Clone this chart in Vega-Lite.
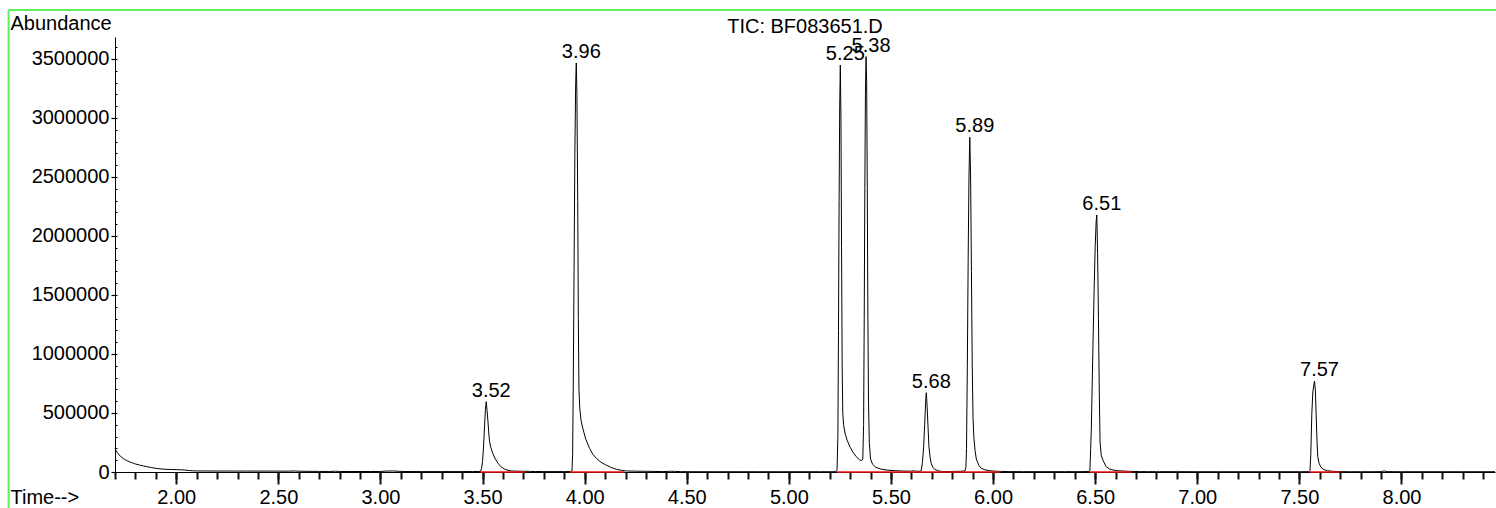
{
  "$schema": "https://vega.github.io/schema/vega-lite/v6.json",
  "width": 1380,
  "height": 435,
  "autosize": "none",
  "padding": {"left": 115, "top": 37, "right": 1, "bottom": 36},
  "background": "white",
  "config": {
    "view": {"stroke": null},
    "font": "Liberation Sans",
    "axis": {
      "grid": false,
      "labelFont": "Liberation Sans",
      "labelFontSize": 20,
      "labelColor": "black",
      "titleFont": "Liberation Sans",
      "titleFontSize": 20,
      "titleFontWeight": "normal",
      "titleColor": "black",
      "domainColor": "black",
      "domainWidth": 1,
      "labelFlush": false,
      "labelBound": false
    }
  },
  "title": {
    "text": "TIC: BF083651.D",
    "font": "Liberation Sans",
    "fontSize": 20,
    "fontWeight": "normal",
    "color": "black",
    "anchor": "middle",
    "frame": "group",
    "baseline": "alphabetic",
    "offset": 0,
    "dy": 44
  },
  "resolve": {"axis": {"x": "independent", "y": "independent"}},
  "datasets": {
    "trace": [
      {"t": 1.700, "a": 200000}, {"t": 1.705, "a": 182000}, {"t": 1.710, "a": 168000}, {"t": 1.720, "a": 146000},
      {"t": 1.730, "a": 128000}, {"t": 1.740, "a": 115000}, {"t": 1.750, "a": 104000}, {"t": 1.760, "a": 95000},
      {"t": 1.770, "a": 87000}, {"t": 1.780, "a": 80000}, {"t": 1.790, "a": 74000}, {"t": 1.800, "a": 68000},
      {"t": 1.820, "a": 59000}, {"t": 1.840, "a": 51000}, {"t": 1.860, "a": 44000}, {"t": 1.880, "a": 37000},
      {"t": 1.900, "a": 31000}, {"t": 1.920, "a": 27000}, {"t": 1.940, "a": 24000}, {"t": 1.960, "a": 22000},
      {"t": 1.980, "a": 21000}, {"t": 2.000, "a": 20000}, {"t": 2.020, "a": 19000}, {"t": 2.040, "a": 17000},
      {"t": 2.060, "a": 13000}, {"t": 2.080, "a": 10000}, {"t": 2.100, "a": 9000}, {"t": 2.150, "a": 8500},
      {"t": 2.200, "a": 8000}, {"t": 2.250, "a": 8200}, {"t": 2.300, "a": 7800}, {"t": 2.350, "a": 8000},
      {"t": 2.400, "a": 7600}, {"t": 2.450, "a": 7800}, {"t": 2.500, "a": 7400}, {"t": 2.550, "a": 7000},
      {"t": 2.580, "a": 9000}, {"t": 2.600, "a": 6500}, {"t": 2.650, "a": 5500}, {"t": 2.700, "a": 5000},
      {"t": 2.750, "a": 4500}, {"t": 2.780, "a": 6500}, {"t": 2.800, "a": 4500}, {"t": 2.850, "a": 4000},
      {"t": 2.900, "a": 4500}, {"t": 2.950, "a": 4000}, {"t": 3.000, "a": 4500}, {"t": 3.030, "a": 8000},
      {"t": 3.060, "a": 9000}, {"t": 3.090, "a": 6000}, {"t": 3.120, "a": 4000}, {"t": 3.200, "a": 3500},
      {"t": 3.300, "a": 3500}, {"t": 3.400, "a": 3500}, {"t": 3.450, "a": 4000}, {"t": 3.490, "a": 5000},
      {"t": 3.495, "a": 30000}, {"t": 3.500, "a": 90000}, {"t": 3.505, "a": 220000}, {"t": 3.510, "a": 400000},
      {"t": 3.514, "a": 530000}, {"t": 3.518, "a": 596000}, {"t": 3.522, "a": 520000}, {"t": 3.526, "a": 440000},
      {"t": 3.530, "a": 340000}, {"t": 3.534, "a": 260000}, {"t": 3.540, "a": 210000}, {"t": 3.550, "a": 158000},
      {"t": 3.560, "a": 118000}, {"t": 3.575, "a": 75000}, {"t": 3.590, "a": 45000}, {"t": 3.608, "a": 24000},
      {"t": 3.625, "a": 14000}, {"t": 3.640, "a": 9000}, {"t": 3.670, "a": 7000}, {"t": 3.700, "a": 6000},
      {"t": 3.730, "a": 5000}, {"t": 3.760, "a": 4000}, {"t": 3.800, "a": 3500}, {"t": 3.850, "a": 3500},
      {"t": 3.900, "a": 3500}, {"t": 3.930, "a": 4000},
      {"t": 3.938, "a": 10000}, {"t": 3.941, "a": 150000}, {"t": 3.944, "a": 700000}, {"t": 3.948, "a": 1700000},
      {"t": 3.952, "a": 2700000}, {"t": 3.956, "a": 3300000}, {"t": 3.959, "a": 3466000}, {"t": 3.962, "a": 3200000},
      {"t": 3.966, "a": 2300000}, {"t": 3.969, "a": 1300000}, {"t": 3.972, "a": 700000}, {"t": 3.976, "a": 540000},
      {"t": 3.982, "a": 440000}, {"t": 3.991, "a": 370000}, {"t": 4.005, "a": 280000}, {"t": 4.024, "a": 200000},
      {"t": 4.040, "a": 150000}, {"t": 4.057, "a": 116000}, {"t": 4.080, "a": 82000}, {"t": 4.106, "a": 58000},
      {"t": 4.130, "a": 38000}, {"t": 4.155, "a": 23000}, {"t": 4.180, "a": 14000}, {"t": 4.205, "a": 9000},
      {"t": 4.250, "a": 7000}, {"t": 4.300, "a": 6000}, {"t": 4.340, "a": 5000}, {"t": 4.380, "a": 3500},
      {"t": 4.420, "a": 6000}, {"t": 4.440, "a": 5500}, {"t": 4.470, "a": 3000}, {"t": 4.550, "a": 2500},
      {"t": 4.650, "a": 2500}, {"t": 4.750, "a": 2500}, {"t": 4.850, "a": 2500}, {"t": 4.950, "a": 2500},
      {"t": 5.050, "a": 2500}, {"t": 5.150, "a": 2500}, {"t": 5.200, "a": 2500}, {"t": 5.232, "a": 3000},
      {"t": 5.236, "a": 20000}, {"t": 5.240, "a": 300000}, {"t": 5.243, "a": 1200000}, {"t": 5.246, "a": 2300000},
      {"t": 5.249, "a": 3100000}, {"t": 5.252, "a": 3449000}, {"t": 5.255, "a": 3000000}, {"t": 5.258, "a": 1900000},
      {"t": 5.261, "a": 900000}, {"t": 5.264, "a": 500000}, {"t": 5.268, "a": 400000}, {"t": 5.275, "a": 330000},
      {"t": 5.285, "a": 270000}, {"t": 5.300, "a": 210000}, {"t": 5.315, "a": 165000}, {"t": 5.330, "a": 130000},
      {"t": 5.345, "a": 105000}, {"t": 5.355, "a": 95000}, {"t": 5.362, "a": 110000},
      {"t": 5.366, "a": 400000}, {"t": 5.369, "a": 1300000}, {"t": 5.372, "a": 2400000}, {"t": 5.375, "a": 3200000},
      {"t": 5.378, "a": 3520000}, {"t": 5.381, "a": 3300000}, {"t": 5.384, "a": 2400000}, {"t": 5.387, "a": 1300000},
      {"t": 5.390, "a": 600000}, {"t": 5.394, "a": 250000}, {"t": 5.400, "a": 110000}, {"t": 5.410, "a": 65000},
      {"t": 5.425, "a": 40000}, {"t": 5.450, "a": 25000}, {"t": 5.480, "a": 16000}, {"t": 5.520, "a": 11000},
      {"t": 5.560, "a": 8000}, {"t": 5.600, "a": 7000}, {"t": 5.610, "a": 11000}, {"t": 5.620, "a": 7000},
      {"t": 5.640, "a": 6500}, {"t": 5.648, "a": 11000},
      {"t": 5.654, "a": 80000}, {"t": 5.660, "a": 214000}, {"t": 5.665, "a": 400000}, {"t": 5.670, "a": 600000},
      {"t": 5.673, "a": 672000}, {"t": 5.677, "a": 560000}, {"t": 5.681, "a": 400000}, {"t": 5.686, "a": 214000},
      {"t": 5.692, "a": 120000}, {"t": 5.697, "a": 74000}, {"t": 5.705, "a": 40000}, {"t": 5.714, "a": 23000},
      {"t": 5.730, "a": 10000}, {"t": 5.754, "a": 4000}, {"t": 5.780, "a": 4000}, {"t": 5.810, "a": 5000},
      {"t": 5.840, "a": 6000}, {"t": 5.862, "a": 9000},
      {"t": 5.867, "a": 40000}, {"t": 5.870, "a": 200000}, {"t": 5.874, "a": 900000}, {"t": 5.878, "a": 1800000},
      {"t": 5.882, "a": 2500000}, {"t": 5.886, "a": 2836000}, {"t": 5.890, "a": 2500000}, {"t": 5.894, "a": 1700000},
      {"t": 5.898, "a": 900000}, {"t": 5.902, "a": 450000}, {"t": 5.906, "a": 290000}, {"t": 5.912, "a": 180000},
      {"t": 5.918, "a": 110000}, {"t": 5.930, "a": 58000}, {"t": 5.942, "a": 32000}, {"t": 5.960, "a": 18000},
      {"t": 5.983, "a": 11000}, {"t": 6.010, "a": 7000}, {"t": 6.040, "a": 5000}, {"t": 6.080, "a": 3500},
      {"t": 6.150, "a": 3000}, {"t": 6.250, "a": 3000}, {"t": 6.350, "a": 3000}, {"t": 6.420, "a": 3000},
      {"t": 6.470, "a": 4000},
      {"t": 6.474, "a": 10000}, {"t": 6.478, "a": 200000}, {"t": 6.481, "a": 356000}, {"t": 6.485, "a": 700000},
      {"t": 6.489, "a": 1060000}, {"t": 6.495, "a": 1550000}, {"t": 6.500, "a": 1910000}, {"t": 6.505, "a": 2130000},
      {"t": 6.508, "a": 2178000}, {"t": 6.512, "a": 1850000}, {"t": 6.516, "a": 1300000}, {"t": 6.520, "a": 700000},
      {"t": 6.524, "a": 250000}, {"t": 6.530, "a": 140000}, {"t": 6.538, "a": 100000}, {"t": 6.554, "a": 45000},
      {"t": 6.570, "a": 26000}, {"t": 6.587, "a": 17000}, {"t": 6.610, "a": 11000}, {"t": 6.636, "a": 8000},
      {"t": 6.680, "a": 5000}, {"t": 6.717, "a": 3500}, {"t": 6.760, "a": 3000}, {"t": 6.800, "a": 3000},
      {"t": 6.806, "a": 6000}, {"t": 6.815, "a": 3000}, {"t": 6.890, "a": 3000}, {"t": 6.897, "a": 6000},
      {"t": 6.905, "a": 3000}, {"t": 7.000, "a": 2500}, {"t": 7.100, "a": 2500}, {"t": 7.200, "a": 2500},
      {"t": 7.300, "a": 2500}, {"t": 7.400, "a": 2500}, {"t": 7.500, "a": 2500}, {"t": 7.548, "a": 3000},
      {"t": 7.552, "a": 10000}, {"t": 7.556, "a": 150000}, {"t": 7.561, "a": 497000}, {"t": 7.566, "a": 680000},
      {"t": 7.574, "a": 771000}, {"t": 7.578, "a": 700000}, {"t": 7.582, "a": 497000}, {"t": 7.586, "a": 280000},
      {"t": 7.590, "a": 130000}, {"t": 7.596, "a": 75000}, {"t": 7.606, "a": 40000}, {"t": 7.620, "a": 20000},
      {"t": 7.638, "a": 11000}, {"t": 7.660, "a": 6000}, {"t": 7.695, "a": 3000}, {"t": 7.750, "a": 2500},
      {"t": 7.800, "a": 2500}, {"t": 7.850, "a": 2500}, {"t": 7.900, "a": 3000}, {"t": 7.915, "a": 9000},
      {"t": 7.930, "a": 3000}, {"t": 8.000, "a": 2500}, {"t": 8.100, "a": 2500}, {"t": 8.200, "a": 2500},
      {"t": 8.300, "a": 2500}, {"t": 8.400, "a": 2500}, {"t": 8.458, "a": 2500}
    ],
    "peaks": [
      {"rt": 3.518, "h": 596000, "label": "3.52"},
      {"rt": 3.959, "h": 3466000, "label": "3.96"},
      {"rt": 5.252, "h": 3449000, "label": "5.25"},
      {"rt": 5.378, "h": 3520000, "label": "5.38"},
      {"rt": 5.673, "h": 672000, "label": "5.68"},
      {"rt": 5.886, "h": 2836000, "label": "5.89"},
      {"rt": 6.508, "h": 2178000, "label": "6.51"},
      {"rt": 7.574, "h": 771000, "label": "7.57"}
    ],
    "baselines": [
      {"start": 3.490, "end": 3.706},
      {"start": 3.926, "end": 4.195},
      {"start": 5.236, "end": 6.035},
      {"start": 6.474, "end": 6.677},
      {"start": 7.550, "end": 7.695}
    ]
  },
  "layer": [
    {
      "data": {"name": "trace"},
      "mark": {"type": "line", "color": "black", "strokeWidth": 1},
      "encoding": {
        "x": {
          "field": "t", "type": "quantitative",
          "scale": {"domain": [1.7, 8.458], "nice": false, "zero": false},
          "axis": {
            "orient": "bottom",
            "title": "Time-->",
            "titleX": -105, "titleY": 31, "titleAlign": "left", "titleBaseline": "alphabetic", "titleAngle": 0,
            "values": [2.0,2.5,3.0,3.5,4.0,4.5,5.0,5.5,6.0,6.5,7.0,7.5,8.0],
            "format": ".2f",
            "ticks": true,
            "tickColor": "#111111",
            "tickOpacity": 1,
            "tickWidth": 2,
            "tickSize": 12,
            "labelBaseline": "alphabetic",
            "labelPadding": 19
          }
        },
        "y": {
          "field": "a", "type": "quantitative",
          "scale": {"domain": [0, 3686000], "nice": false, "zero": true},
          "axis": {
            "orient": "left",
            "title": "Abundance",
            "titleX": -105, "titleY": -8, "titleAlign": "left", "titleBaseline": "alphabetic", "titleAngle": 0,
            "values": [0,500000,1000000,1500000,2000000,2500000,3000000,3500000],
            "format": "d",
            "ticks": true,
            "tickColor": "black",
            "tickWidth": 1.2,
            "tickSize": 4,
            "labelPadding": 2
          }
        }
      }
    },
    {
      "data": {"name": "baselines"},
      "mark": {"type": "rule", "color": "#f01010", "strokeWidth": 1.5},
      "encoding": {
        "x": {
          "field": "start", "type": "quantitative",
          "axis": {
            "orient": "bottom",
            "title": null,
            "values": [1.7,1.8,1.9,2.0,2.1,2.2,2.3,2.4,2.5,2.6,2.7,2.8,2.9,3.0,3.1,3.2,3.3,3.4,3.5,3.6,3.7,3.8,3.9,4.0,4.1,4.2,4.3,4.4,4.5,4.6,4.7,4.8,4.9,5.0,5.1,5.2,5.3,5.4,5.5,5.6,5.7,5.8,5.9,6.0,6.1,6.2,6.3,6.4,6.5,6.6,6.7,6.8,6.9,7.0,7.1,7.2,7.3,7.4,7.5,7.6,7.7,7.8,7.9,8.0,8.1,8.2,8.3,8.4],
            "labels": false,
            "domain": false,
            "ticks": true,
            "tickColor": "#111111",
            "tickOpacity": 1,
            "tickWidth": 2,
            "tickSize": 7
          }
        },
        "x2": {"field": "end"},
        "y": {
          "datum": 0,
          "axis": {
            "orient": "left",
            "title": null,
            "values": [0,100000,200000,300000,400000,500000,600000,700000,800000,900000,1000000,1100000,1200000,1300000,1400000,1500000,1600000,1700000,1800000,1900000,2000000,2100000,2200000,2300000,2400000,2500000,2600000,2700000,2800000,2900000,3000000,3100000,3200000,3300000,3400000,3500000,3600000],
            "labels": false,
            "domain": false,
            "ticks": true,
            "tickColor": "black",
            "tickWidth": 1,
            "tickSize": -2
          }
        }
      }
    },
    {
      "data": {"name": "peaks"},
      "mark": {"type": "text", "font": "Liberation Sans", "fontSize": 20, "color": "black", "align": "center", "baseline": "alphabetic", "dx": 5, "dy": -5},
      "encoding": {
        "x": {"field": "rt", "type": "quantitative", "axis": null},
        "y": {"field": "h", "type": "quantitative", "axis": null},
        "text": {"field": "label"}
      }
    },
    {
      "data": {"values": [{}]},
      "mark": {"type": "rule", "color": "#5cf05c", "strokeWidth": 2},
      "encoding": {
        "x": {"datum": 1.179, "axis": null},
        "x2": {"datum": 8.6},
        "y": {"datum": 3915000, "axis": null}
      }
    },
    {
      "data": {"values": [{}]},
      "mark": {"type": "rule", "color": "#5cf05c", "strokeWidth": 2},
      "encoding": {
        "x": {"datum": 1.179, "axis": null},
        "y": {"datum": 3915000, "axis": null},
        "y2": {"datum": -400000}
      }
    }
  ]
}
